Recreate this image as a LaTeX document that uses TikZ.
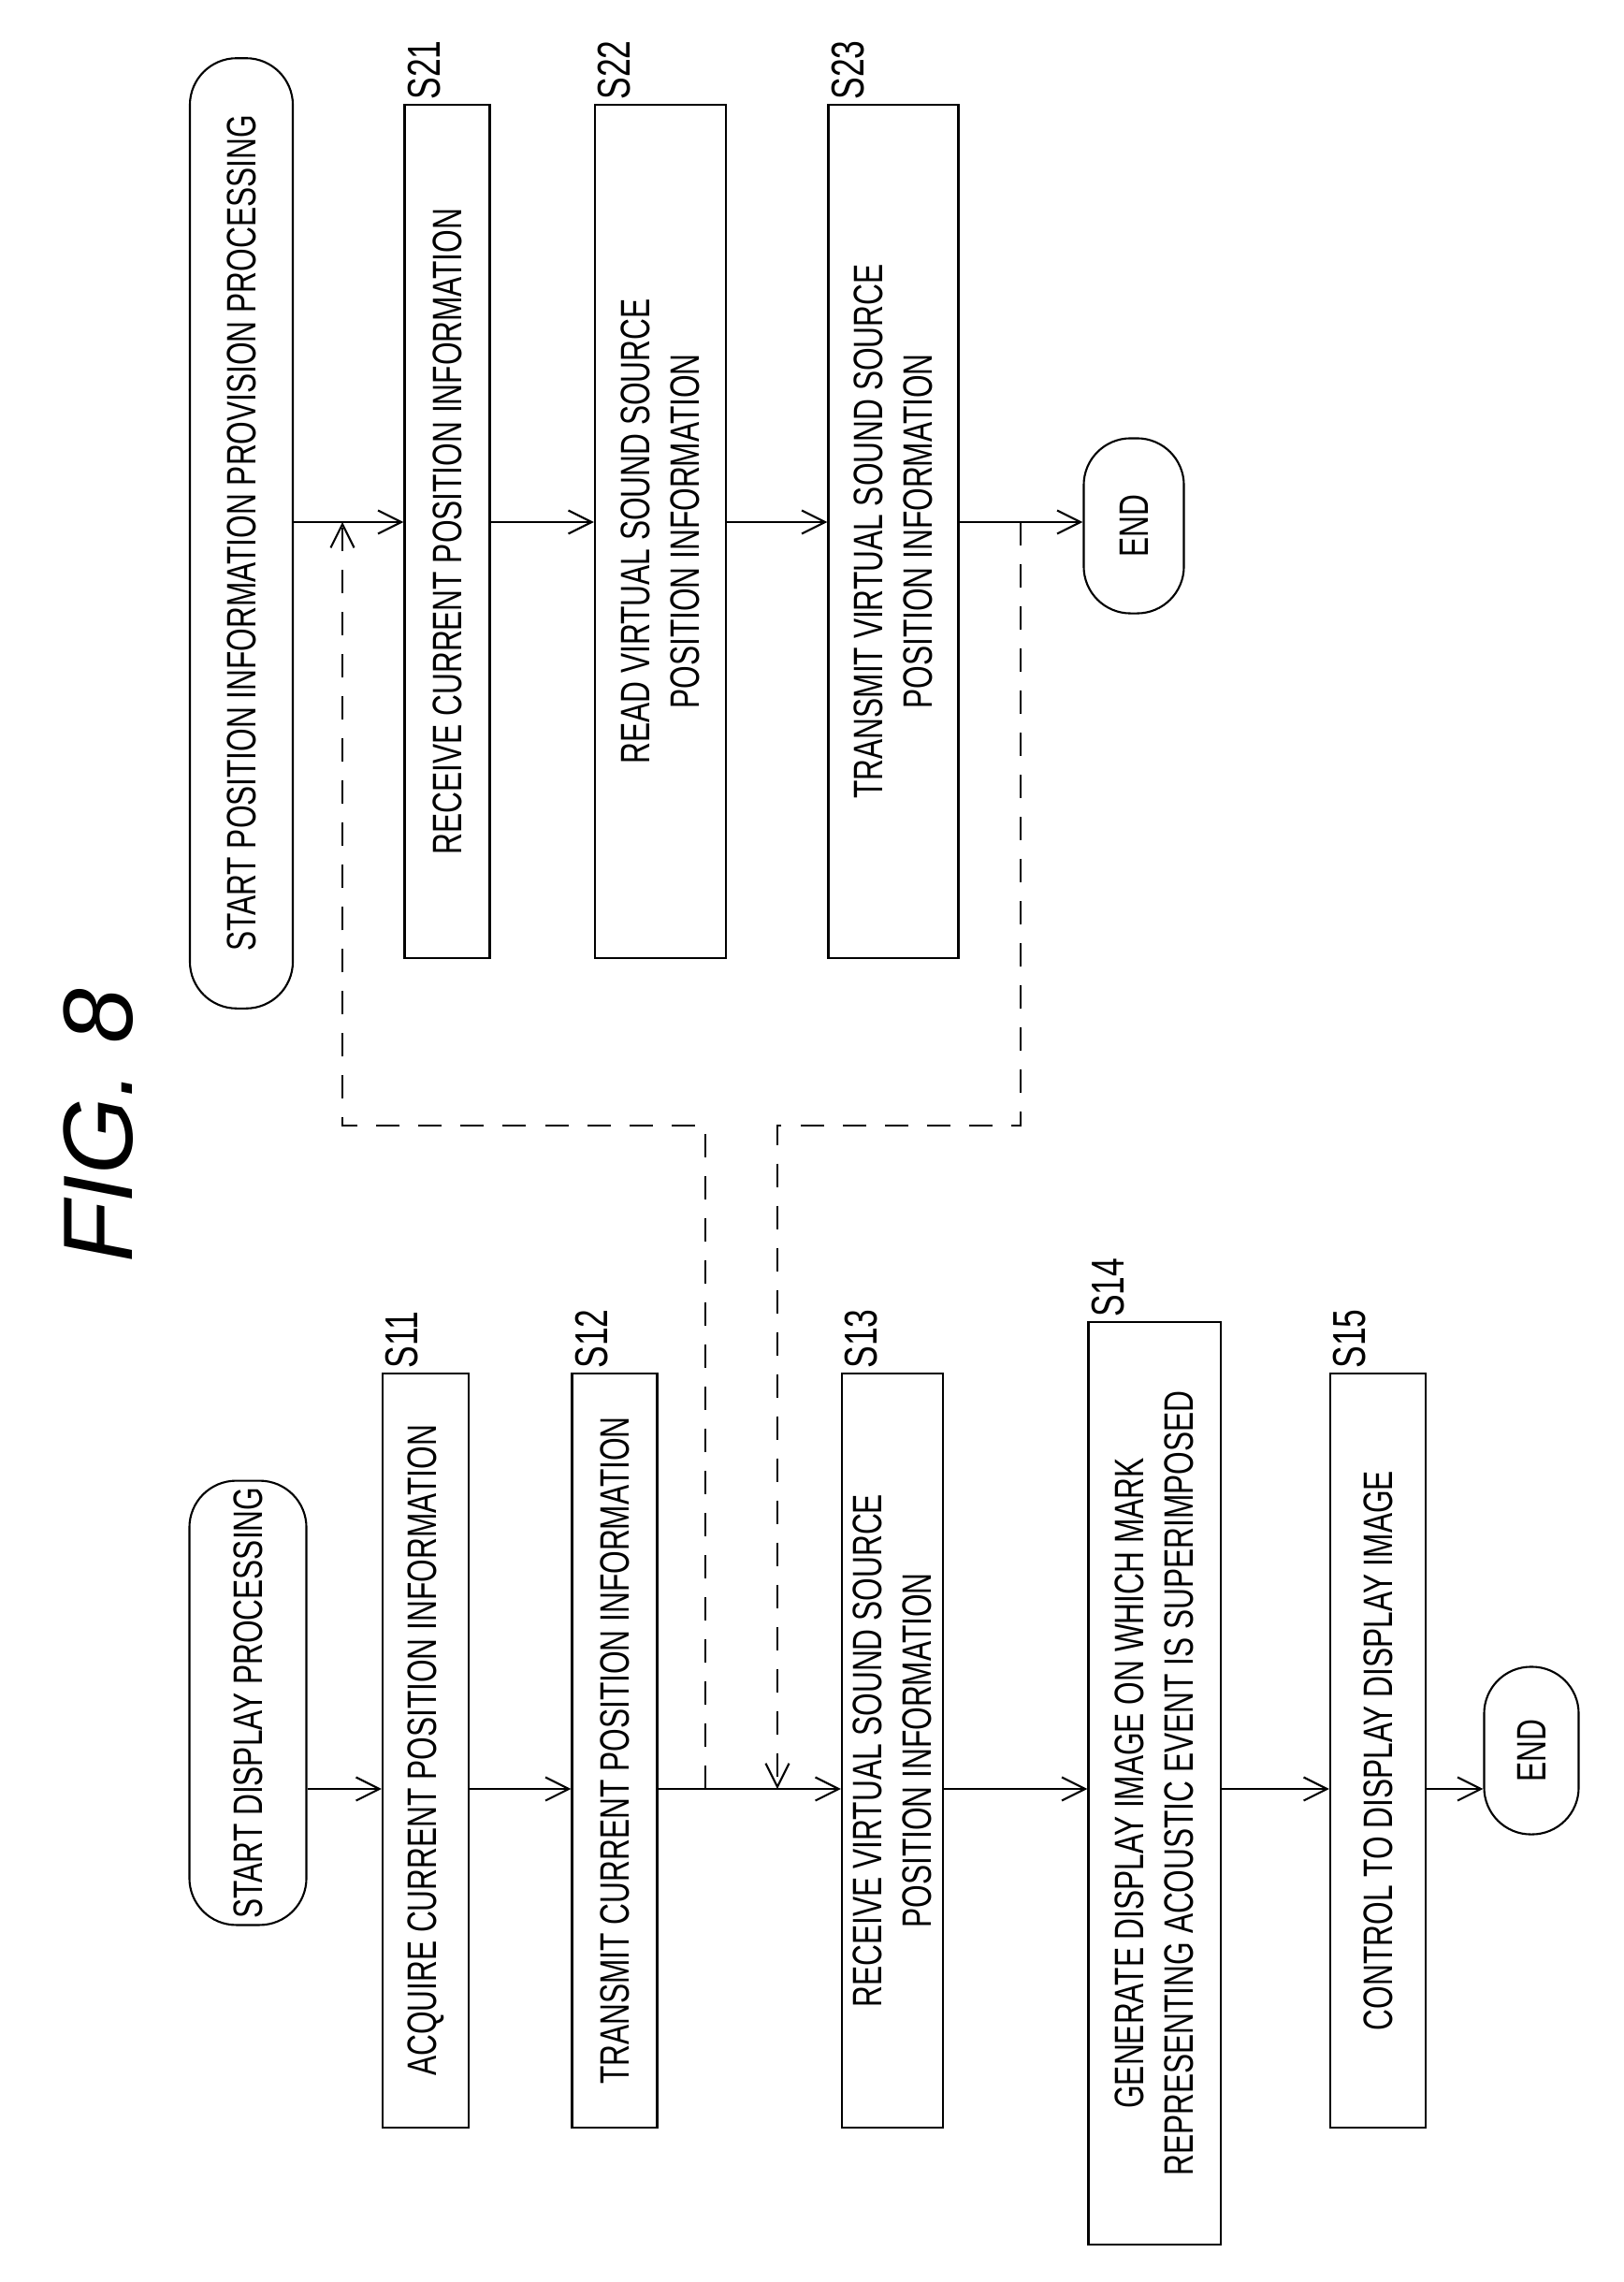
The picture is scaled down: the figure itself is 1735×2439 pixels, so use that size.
\documentclass[tikz,border=0pt]{standalone}
\usepackage{fontspec}
\setmainfont{Liberation Sans}[FakeStretch=0.72]
\newfontfamily\figfont{Liberation Sans}
\usetikzlibrary{arrows.meta}
\tikzstyle{process}=[draw, line width=0.6pt, rotate=90, align=center, inner sep=2pt, font=\fontsize{12.5}{15}\selectfont]
\tikzstyle{terminal}=[process, rounded corners=0.5cm]
\tikzstyle{stepLabel}=[rotate=90, anchor=north west, inner sep=1pt, font=\fontsize{14}{16}\selectfont]
\tikzstyle{flow}=[line width=0.6pt, -{Straight Barb[length=2.5mm,width=2.5mm]}]
\tikzstyle{signal}=[flow, dashed, dash pattern=on 2.5mm off 2mm]

\begin{document}
\begin{tikzpicture}[x=0.01cm, y=-0.01cm]
  \useasboundingbox (0,0) rectangle (1735,2439);
  % Title
  \node (title) at (105,1203) [rotate=90, font=\figfont\fontsize{30}{32}\selectfont\itshape] {FIG. 8};

  % Position information provision processing
  \node (pstart) at (258,570) [terminal, minimum width=10.15cm, minimum height=1.1cm] {START POSITION INFORMATION PROVISION PROCESSING};
  \node (s21) at (478,568) [process, minimum width=9.12cm, minimum height=0.91cm] {RECEIVE CURRENT POSITION INFORMATION};
  \node (s22) at (706,568) [process, minimum width=9.12cm, minimum height=1.4cm] {READ VIRTUAL SOUND SOURCE\\POSITION INFORMATION};
  \node (s23) at (955,568) [process, minimum width=9.12cm, minimum height=1.39cm] {TRANSMIT VIRTUAL SOUND SOURCE\\POSITION INFORMATION};
  \node (pend) at (1212,562) [terminal, minimum width=1.87cm, minimum height=1.07cm] {END};

  % Display processing
  \node (dstart) at (265,1820) [terminal, minimum width=3.91cm, minimum height=1.25cm] {START DISPLAY PROCESSING};
  \node (s11) at (455,1871) [process, minimum width=8.06cm, minimum height=0.92cm] {ACQUIRE CURRENT POSITION INFORMATION};
  \node (s12) at (657,1871) [process, minimum width=8.06cm, minimum height=0.91cm] {TRANSMIT CURRENT POSITION INFORMATION};
  \node (s13) at (954,1871) [process, minimum width=8.06cm, minimum height=1.08cm] {RECEIVE VIRTUAL SOUND SOURCE\\POSITION INFORMATION};
  \node (s14) at (1234,1906) [process, minimum width=9.85cm, minimum height=1.41cm] {GENERATE DISPLAY IMAGE ON WHICH MARK\\REPRESENTING ACOUSTIC EVENT IS SUPERIMPOSED};
  \node (s15) at (1473,1871) [process, minimum width=8.06cm, minimum height=1.02cm] {CONTROL TO DISPLAY DISPLAY IMAGE};
  \node (dend) at (1637,1871) [terminal, minimum width=1.79cm, minimum height=1.01cm] {END};

  % Step labels
  \node [stepLabel] at (s21.north east) {S21};
  \node [stepLabel] at (s22.north east) {S22};
  \node [stepLabel] at (s23.north east) {S23};
  \node [stepLabel] at (s11.north east) {S11};
  \node [stepLabel] at (s12.north east) {S12};
  \node [stepLabel] at (s13.north east) {S13};
  \node [stepLabel] at (s14.north east) {S14};
  \node [stepLabel] at (s15.north east) {S15};

  % Flow lines
  \coordinate (upline) at (0,558);
  \coordinate (lowline) at (0,1912);
  \draw[flow] (pstart.south |- upline) -- (s21.north |- upline);
  \draw[flow] (s21.south |- upline) -- (s22.north |- upline);
  \draw[flow] (s22.south |- upline) -- (s23.north |- upline);
  \draw[flow] (s23.south |- upline) -- (pend.north |- upline);
  \draw[flow] (dstart.south |- lowline) -- (s11.north |- lowline);
  \draw[flow] (s11.south |- lowline) -- (s12.north |- lowline);
  \draw[flow] (s12.south |- lowline) -- (s13.north |- lowline);
  \draw[flow] (s13.south |- lowline) -- (s14.north |- lowline);
  \draw[flow] (s14.south |- lowline) -- (s15.north |- lowline);
  \draw[flow] (s15.south |- lowline) -- (dend.north |- lowline);

  % Communication
  \coordinate (sendout) at (754,1912);
  \coordinate (sendin) at (366,558);
  \coordinate (replyout) at (1091,558);
  \coordinate (replyin) at (831,1912);
  \draw[signal] (sendout) -- (sendout |- 0,1203) -- (sendin |- 0,1203) -- (sendin);
  \draw[signal] (replyout) -- (replyout |- 0,1203) -- (replyin |- 0,1203) -- (replyin);
\end{tikzpicture}
\end{document}
